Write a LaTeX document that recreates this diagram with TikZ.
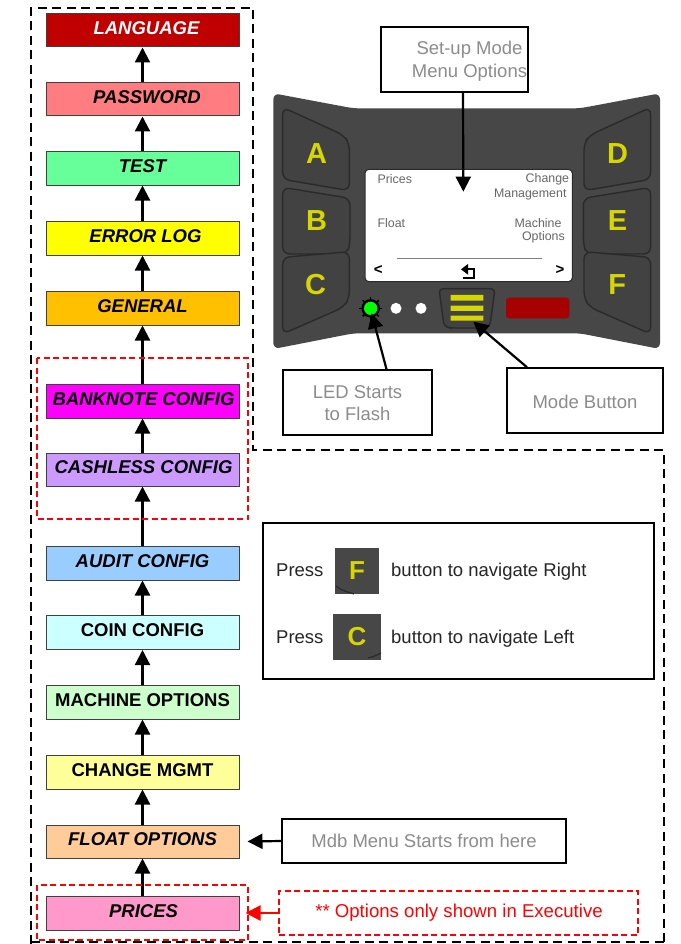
\documentclass[tikz,border=0pt]{standalone}
\usepackage{fontspec}
\setmainfont{Liberation Sans}
\usetikzlibrary{arrows.meta}
\definecolor{gtxt}{HTML}{8C8C8C}
\definecolor{panelc}{HTML}{474747}
\definecolor{btnc}{HTML}{424242}
\definecolor{btne}{HTML}{2A2A2A}
\definecolor{yel}{HTML}{D6D600}
\definecolor{scrt}{HTML}{666666}
\definecolor{cmag}{RGB}{255,0,255}
\definecolor{cyel}{RGB}{255,255,0}
\tikzset{
  menubox/.style={draw=black!75,line width=1pt,minimum width=193pt,minimum height=34pt,inner sep=0pt,text height=13pt,text depth=5pt,font=\fontsize{18.5}{22}\selectfont\bfseries\itshape},
  menuplain/.style={menubox,font=\fontsize{18.5}{22}\selectfont\bfseries},
  conn/.style={line width=2.2pt,-{Triangle[width=15pt,length=15pt]}},
  redconn/.style={line width=2.2pt,red,-{Triangle[width=15pt,length=15pt]}},
  callout/.style={draw=black,line width=1.5pt,inner sep=0pt},
  calltext/.style={inner sep=0pt,align=center,text=gtxt,font=\fontsize{18.5}{22.5}\selectfont},
  outerdash/.style={line width=2pt,dash pattern=on 9pt off 5.5pt},
  reddash/.style={draw=red,line width=1.4pt,dash pattern=on 6pt off 3.5pt},
  panelscope/.style={shift={(260,80)},x=.33333pt,y=-.33333pt},
  letter/.style={text=yel,inner sep=0pt,font=\fontsize{29}{30}\selectfont\bfseries},
  tileletter/.style={text=yel,inner sep=0pt,font=\fontsize{26}{30}\selectfont\bfseries},
  scrtext/.style={text=scrt,inner sep=0pt,font=\fontsize{12.4}{14}\selectfont},
  scrmark/.style={inner sep=0pt,text=black,font=\fontsize{15}{16}\selectfont\bfseries},
  plaintext/.style={inner sep=0pt,text=black!85,text height=13pt,text depth=1pt,font=\fontsize{18.5}{22}\selectfont},
  btn/.style={fill=btnc,draw=btne,line width=1.4pt,rounded corners=7pt},
}
\begin{document}
\begin{tikzpicture}[x=1pt,y=-1pt]
\fill[white] (0,0) rectangle (680,944);
\useasboundingbox (0,0) rectangle (680,944);

% device panel
\begin{scope}[panelscope]
  \fill[panelc,rounded corners=6pt] (40,40) -- (280,85) -- (960,85) -- (1200,40) -- (1200,807) -- (960,760) -- (280,760) -- (40,807) -- cycle;
  \foreach \sc/\sh in {1/0,-1/1240}{
    \begin{scope}[shift={(\sh,0)},xscale=\sc]
      \path[btn] (68,82) -- (250,165) -- (268,190) -- (268,332) -- (68,298) -- cycle;
      \path[btn] (68,322) -- (270,355) -- (270,490) -- (262,522) -- (68,522) -- cycle;
      \path[btn] (68,532) -- (268,515) -- (268,655) -- (250,682) -- (68,762) -- cycle;
    \end{scope}
  }
  \node[letter] (ka) at (170,222) {A};
  \node[letter] (kb) at (170,422) {B};
  \node[letter] (kc) at (167,615) {C};
  \node[letter] (kd) at (1073,222) {D};
  \node[letter] (ke) at (1073,422) {E};
  \node[letter] (kf) at (1072,615) {F};
  \draw[fill=white,draw=btne,line width=1pt,rounded corners=4pt] (315,268) rectangle (937,605);
  \node[scrtext,anchor=west] (sprices) at (352,298) {Prices};
  \node[scrtext,anchor=east] (schange) at (928,298) {Change};
  \node[scrtext,anchor=east] (smgmt) at (920,343) {Management};
  \node[scrtext,anchor=west] (sfloat) at (352,430) {Float};
  \node[scrtext,anchor=east] (smach) at (905,430) {Machine};
  \node[scrtext,anchor=east] (sopt) at (915,472) {Options};
  \draw[gray,line width=1pt] (410,535) -- (847,535);
  \node[scrmark] (sleft) at (355,570) {<};
  \node[scrmark] (sright) at (900,570) {>};
  \fill[black] (603,568) -- (624,552) -- (624,584) -- cycle;
  \draw[black,line width=1.8pt] (620,568) -- (642,568) -- (642,593) -- (610,593);
  % LED row
  \foreach \a in {0,45,...,315}{\draw[black,line width=1.5pt] (332,685) -- ++(\a:34);}
  \node[circle,fill=green,draw=black,line width=2.4pt,minimum size=16pt,inner sep=0pt] (led) at (332,685) {};
  \node[circle,fill=white,minimum size=11pt,inner sep=0pt] (dot1) at (408,685) {};
  \node[circle,fill=white,minimum size=11pt,inner sep=0pt] (dot2) at (483,685) {};
  \path[fill=btnc,draw=btne,line width=1.4pt,rounded corners=4pt] (537,626) -- (705,626) -- (690,738) -- (672,744) -- (570,744) -- (552,738) -- cycle;
  \fill[yel] (572,645) rectangle (670,662) (572,677) rectangle (670,693) (572,707) rectangle (670,722);
  \fill[red!65!black,rounded corners=3pt] (738,653) rectangle (928,715);
  \coordinate (scrtip) at (610,335);
  \coordinate (ledtip) at (335,700);
  \coordinate (modetip) at (640,725);
\end{scope}

% outer dashed border
\draw[outerdash] (31,944) -- (31,8) -- (253,8) -- (253,450) -- (664,450) -- (664,944);
\draw[outerdash] (31,942) -- (664,942);

% menu boxes
\node[menubox,fill={rgb,255:red,192;green,0;blue,0},text=white,minimum height=33pt] (language) at (142.5,30.5) {\hspace*{8pt}LANGUAGE};
\node[menubox,fill={rgb,255:red,255;green,124;blue,128},minimum height=33pt] (password) at (142.5,99.5) {\hspace*{9pt}PASSWORD};
\node[menubox,fill={rgb,255:red,102;green,255;blue,153},minimum height=33pt] (test) at (142.5,168.5) {TEST};
\node[menubox,fill=cyel] (errorlog) at (142.5,238) {\hspace*{6pt}ERROR LOG};
\node[menubox,fill={rgb,255:red,255;green,192;blue,0}] (general) at (142.5,308) {GENERAL};
\node[menubox,fill=cmag] (banknote) at (142.5,401) {\hspace*{2pt}BANKNOTE CONFIG};
\node[menubox,fill={rgb,255:red,204;green,153;blue,255},minimum height=33pt] (cashless) at (142.5,469.5) {\hspace*{2pt}CASHLESS CONFIG};
\node[menubox,fill={rgb,255:red,153;green,204;blue,255}] (audit) at (142.5,563) {AUDIT CONFIG};
\node[menuplain,fill={rgb,255:red,204;green,255;blue,255}] (coin) at (142.5,632.5) {COIN CONFIG};
\node[menuplain,fill={rgb,255:red,204;green,255;blue,204}] (machine) at (142.5,702) {MACHINE OPTIONS};
\node[menuplain,fill={rgb,255:red,255;green,255;blue,153}] (change) at (142.5,772) {CHANGE MGMT};
\node[menubox,fill={rgb,255:red,255;green,204;blue,153},minimum height=33pt] (float) at (142.5,841.5) {FLOAT OPTIONS};
\node[menubox,fill={rgb,255:red,255;green,153;blue,204}] (prices) at (142.5,913) {\hspace*{2pt}PRICES};

% chain arrows
\foreach \a/\b in {password/language,test/password,errorlog/test,general/errorlog,banknote/general,cashless/banknote,audit/cashless,coin/audit,machine/coin,change/machine,float/change,prices/float}{
  \draw[conn] (\a.north) -- (\b.south);
}

% red dashed groups
\draw[reddash] (37,358) rectangle (248,519);
\draw[reddash] (37,885) rectangle (248,940);

% callouts
\node[callout,minimum width=147pt,minimum height=65pt] (setup) at (454.5,59.5) {};
\node[calltext] (setuptext) at (469.5,61) {Set-up Mode\\Menu Options};
\node[callout,minimum width=149pt,minimum height=65pt] (ledbox) at (357.5,402.5) {};
\node[calltext] (ledtext) at (357.5,403) {LED Starts\\to Flash};
\node[callout,minimum width=156pt,minimum height=65pt] (modebox) at (585,400.5) {};
\node[calltext] (modetext) at (585,402) {Mode Button};
\node[callout,minimum width=284pt,minimum height=44pt] (mdb) at (424,841) {};
\node[calltext] (mdbtext) at (424,841) {Mdb Menu Starts from here};
\node[inner sep=0pt,reddash,minimum width=359pt,minimum height=44pt] (exec) at (458.5,913) {};
\node[inner sep=0pt,text=red,font=\fontsize{18.6}{22}\selectfont] (exectext) at (459,913) {** Options only shown in Executive};

\draw[conn] ([xshift=8.5pt]setup.south) -- (scrtip);
\draw[conn] ([xshift=29pt]ledbox.north) -- (ledtip);
\draw[conn] ([xshift=-58pt]modebox.north) -- (modetip);
\draw[conn] (mdb.west) -- ([xshift=8pt]float.east);
\draw[redconn] (exec.west) -- ([xshift=6pt]prices.east);

% navigation legend
\node[draw=black,line width=2pt,minimum width=391pt,minimum height=156pt,inner sep=0pt] (legend) at (458.5,601) {};
\node[fill=panelc,minimum width=44pt,minimum height=46pt,inner sep=0pt,tileletter] (tilef) at (357,571) {F};
\node[fill=panelc,minimum width=48pt,minimum height=46pt,inner sep=0pt,tileletter] (tilec) at (357,637) {C};
\draw[btne,line width=1.2pt] (336,586) .. controls (342,591) and (348,592) .. (354,594);
\draw[btne,line width=1.2pt] (368,658) .. controls (373,657) and (377,655) .. (381,653);
\node[plaintext,anchor=west] (p1) at (276,570) {Press};
\node[plaintext,anchor=west] (p2) at (276,637) {Press};
\node[plaintext,anchor=west] (nr) at (391,570) {button to navigate Right};
\node[plaintext,anchor=west] (nl) at (391,637) {button to navigate Left};
\end{tikzpicture}
\end{document}
